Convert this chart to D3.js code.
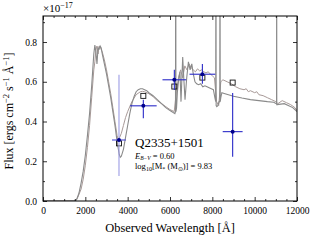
<!DOCTYPE html>
<html><head><meta charset="utf-8">
<script src="https://cdn.jsdelivr.net/npm/d3@7"></script>
<style>body{margin:0;background:#fff}svg{display:block}text{font-family:"Liberation Serif",serif;fill:#000}</style>
</head><body><svg id="c" width="316" height="241"></svg>
<script>
// Model spectrum A (dark gray)
const lamA = [0,1000,1500,1600,1700,1800,1900,2000,2100,2200,2300,2350,2400,2450,2500,2550,2600,2650,2700,2750,2800,2900,3000,3100,3200,3300,3400,3500,3600,3650,3700,3800,3900,4000,4100,4200,4300,4400,4500,4600,4700,4800,4900,5000,5200,5400,5600,5800,6000,6150,6230,6260,6270,6280,6310,6350,6420,6470,6520,6600,6650,6710,6790,6870,6950,7030,7100,7180,7260,7350,7450,7550,7650,7750,7850,7950,8050,8120,8160,8170,8180,8210,8260,8320,8352,8362,8372,8400,8450,8600,9000,9400,9800,10200,10600,10900,11020,11035,11040,11045,11060,11400,11800,12000];
const fluxA = [0,0,0,0.01,0.04,0.09,0.15,0.23,0.33,0.44,0.58,0.66,0.74,0.785,0.75,0.69,0.77,0.765,0.78,0.77,0.74,0.69,0.64,0.58,0.52,0.45,0.38,0.30,0.235,0.22,0.225,0.26,0.32,0.38,0.44,0.49,0.525,0.55,0.56,0.565,0.565,0.56,0.555,0.545,0.53,0.51,0.49,0.47,0.455,0.445,0.44,0.45,1.6,0.45,0.47,0.55,0.62,0.65,0.50,0.725,0.62,0.51,0.62,0.70,0.66,0.69,0.64,0.60,0.59,0.585,0.59,0.575,0.58,0.575,0.57,0.565,0.56,0.52,0.5,1.6,0.48,0.475,0.48,0.5,0.5,1.6,0.5,0.52,0.545,0.54,0.527,0.518,0.51,0.505,0.50,0.497,0.49,0.49,1.6,0.485,0.485,0.49,0.47,0.45];
// Model spectrum B (brownish gray)
const lamB = [0,1000,1550,1650,1800,1900,2000,2100,2200,2300,2400,2450,2500,2550,2600,2650,2700,2800,2900,3000,3100,3200,3300,3400,3500,3550,3600,3700,3800,3900,4000,4200,4400,4600,4700,4800,5000,5200,5400,5600,5800,6000,6200,6300,6400,6500,6600,6700,6800,6900,7000,7100,7200,7300,7400,7500,7600,7700,7800,7900,8000,8100,8200,8300,8400,8500,8700,8900,9100,9300,9500,9600,9700,9800,10000,10100,10200,10400,10600,10800,11000,11100,11300,11500,11700,11900,12000];
const fluxB = [0,0,0,0.02,0.06,0.11,0.18,0.27,0.38,0.52,0.66,0.70,0.76,0.78,0.74,0.78,0.775,0.75,0.71,0.66,0.60,0.54,0.47,0.40,0.33,0.31,0.315,0.34,0.38,0.42,0.45,0.50,0.535,0.55,0.552,0.55,0.54,0.525,0.505,0.49,0.475,0.46,0.45,0.55,0.62,0.66,0.62,0.68,0.66,0.69,0.67,0.66,0.65,0.665,0.655,0.66,0.65,0.645,0.65,0.64,0.63,0.62,0.5,0.48,0.6,0.61,0.6,0.59,0.575,0.565,0.56,0.565,0.55,0.555,0.545,0.55,0.535,0.53,0.52,0.51,0.50,0.49,0.505,0.495,0.485,0.47,0.455];
// Observed photometry
const obsLam = [3590,4740,6205,7530,8960];
const obsLamErr = [330,630,560,610,470];
const obsFlux = [0.307,0.479,0.61,0.638,0.349];
const obsFluxLo = [0.126,0.417,0.559,0.59,0.223];
const obsFluxHi = [0.635,0.509,0.66,0.69,0.543];
// Model photometry
const modFlux = [0.29,0.529,0.576,0.621,0.596];
const xTicks = [0,2000,4000,6000,8000,10000,12000];
const yTicks = [0.0,0.2,0.4,0.6,0.8];

const svg = d3.select("#c");
const L=43,R=297,T=16,B=201;
const x = d3.scaleLinear().domain([0,12000]).range([L,R]);
const y = d3.scaleLinear().domain([0,0.931]).range([B,T]);

svg.append("defs").append("clipPath").attr("id","clip").append("rect")
  .attr("x",L).attr("y",T).attr("width",R-L).attr("height",B-T);
const g = svg.append("g").attr("clip-path","url(#clip)");
const line = d3.line().x(d=>x(d[0])).y(d=>y(d[1]));
g.append("path").datum(d3.zip(lamB,fluxB)).attr("d",line)
  .attr("fill","none").attr("stroke","#a89a98").attr("stroke-width",1);
g.append("path").datum(d3.zip(lamA,fluxA)).attr("d",line)
  .attr("fill","none").attr("stroke","#8a8a8a").attr("stroke-width",1.1);

// model squares
g.selectAll("rect.m").data(obsLam).join("rect").attr("class","m")
  .attr("x",(d)=>x(d)-2.5).attr("y",(d,i)=>y(modFlux[i])-2.5)
  .attr("width",5).attr("height",5).attr("fill","none").attr("stroke","#111").attr("stroke-width",0.9);

// error bars
obsLam.forEach((l,i)=>{
  const vc = i===0 ? "#9c9ce4" : "#2a2ac8";
  const hc = i===0 ? "#4a4ad0" : "#2a2ac8";
  g.append("line").attr("x1",x(l)).attr("x2",x(l)).attr("y1",y(obsFluxLo[i])).attr("y2",y(obsFluxHi[i]))
    .attr("stroke",vc).attr("stroke-width",1.1);
  g.append("line").attr("x1",x(l-obsLamErr[i])).attr("x2",x(l+obsLamErr[i])).attr("y1",y(obsFlux[i])).attr("y2",y(obsFlux[i]))
    .attr("stroke",hc).attr("stroke-width",1.1);
});
g.selectAll("circle.o").data(obsLam).join("circle").attr("class","o")
  .attr("cx",d=>x(d)).attr("cy",(d,i)=>y(obsFlux[i])).attr("r",2).attr("fill","#00008b");

// axes
const fs = "9.5px";
svg.append("g").attr("transform",`translate(0,${B})`)
  .call(d3.axisBottom(x).tickValues(xTicks).tickSize(-4).tickPadding(6).tickFormat(d3.format("d")));
svg.append("g").attr("transform",`translate(${L},0)`)
  .call(d3.axisLeft(y).tickValues(yTicks).tickSize(-4).tickPadding(6).tickFormat(d3.format(".1f")));
svg.append("g").attr("transform",`translate(0,${T})`)
  .call(d3.axisTop(x).tickValues(xTicks).tickSize(-4).tickFormat(""));
svg.append("g").attr("transform",`translate(${R},0)`)
  .call(d3.axisRight(y).tickValues(yTicks).tickSize(-4).tickFormat(""));
const xMinor = d3.range(0,12001,500).filter(v=>v%2000!==0);
const yMinor = [0.1,0.3,0.5,0.7,0.9];
svg.append("g").attr("transform",`translate(0,${B})`).call(d3.axisBottom(x).tickValues(xMinor).tickSize(-2).tickFormat(""));
svg.append("g").attr("transform",`translate(0,${T})`).call(d3.axisTop(x).tickValues(xMinor).tickSize(-2).tickFormat(""));
svg.append("g").attr("transform",`translate(${L},0)`).call(d3.axisLeft(y).tickValues(yMinor).tickSize(-2).tickFormat(""));
svg.append("g").attr("transform",`translate(${R},0)`).call(d3.axisRight(y).tickValues(yMinor).tickSize(-2).tickFormat(""));
svg.selectAll(".domain").remove();
svg.selectAll(".tick line").attr("stroke","#000").attr("stroke-width",0.8);
svg.selectAll(".tick text").style("font-family","Liberation Serif").style("font-size",fs).attr("fill","#000");
svg.append("rect").attr("x",L).attr("y",T).attr("width",R-L).attr("height",B-T)
  .attr("fill","none").attr("stroke","#000").attr("stroke-width",1);

// labels
svg.append("text").attr("x",(L+R)/2).attr("y",232).attr("text-anchor","middle")
  .style("font-size","12.4px").text("Observed Wavelength [Å]");
const yl = svg.append("text").attr("transform","translate(13,111) rotate(-90)").attr("text-anchor","middle").style("font-size","12px");
yl.append("tspan").text("Flux [ergs cm");
yl.append("tspan").attr("dy","-4.5").style("font-size","8.5px").text("−2");
yl.append("tspan").attr("dy","4.5").text(" s");
yl.append("tspan").attr("dy","-4.5").style("font-size","8.5px").text("−1");
yl.append("tspan").attr("dy","4.5").text(" Å");
yl.append("tspan").attr("dy","-4.5").style("font-size","8.5px").text("−1");
yl.append("tspan").attr("dy","4.5").text("]");

const ex = svg.append("text").attr("x",43).attr("y",12).style("font-size","11px");
ex.append("tspan").text("×10");
ex.append("tspan").attr("dy","-4.5").style("font-size","8px").text("−17");

svg.append("text").attr("x",135).attr("y",147).style("font-size","13px").text("Q2335+1501");
const t1 = svg.append("text").attr("x",135).attr("y",159).style("font-size","8.5px");
t1.append("tspan").style("font-style","italic").text("E");
t1.append("tspan").attr("dy","1").style("font-size","5.5px").style("font-style","italic").text("B−V");
t1.append("tspan").attr("dy","-1").text(" = 0.60");
const t2 = svg.append("text").attr("x",135).attr("y",169).style("font-size","8.5px");
t2.append("tspan").text("log");
t2.append("tspan").attr("dy","1.5").style("font-size","6px").text("10");
t2.append("tspan").attr("dy","-1.5").text("[M");
t2.append("tspan").attr("dy","1.5").style("font-size","6px").text("*");
t2.append("tspan").attr("dy","-1.5").text(" (M");
t2.append("tspan").attr("dy","1.5").style("font-size","6px").text("⊙");
t2.append("tspan").attr("dy","-1.5").text(")] = 9.83");
</script></body></html>
